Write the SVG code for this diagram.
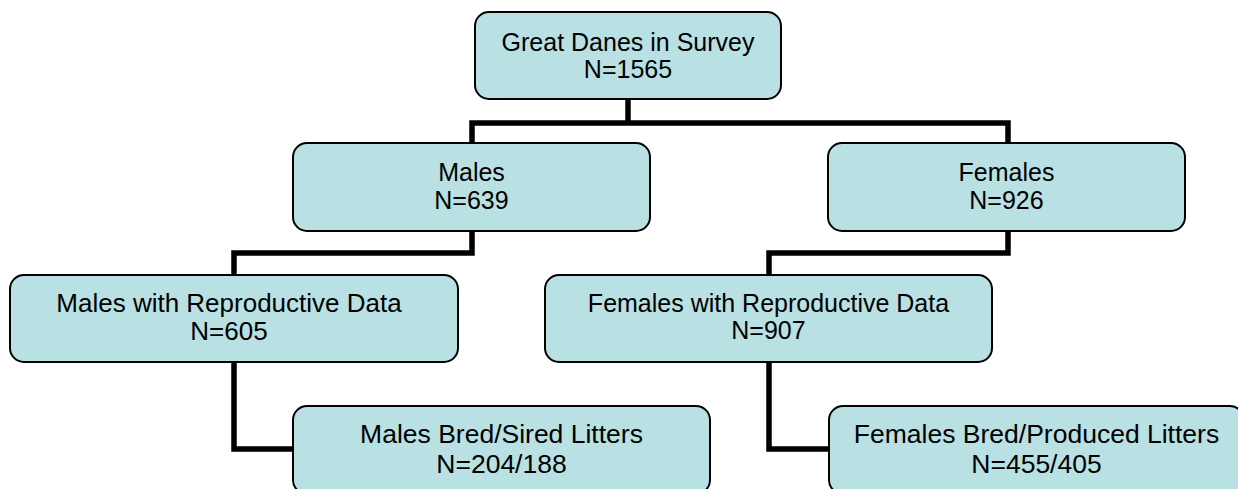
<svg xmlns="http://www.w3.org/2000/svg" width="1238" height="489" viewBox="0 0 1238 489">
  <style>
    .box { fill: #B9E0E3; stroke: #000; stroke-width: 2; }
    .conn { fill: none; stroke: #000; stroke-width: 5.5; stroke-linejoin: miter; }
    .lbl { font-family: "Liberation Sans", Arial, sans-serif; font-size: 25px; fill: #000; text-anchor: middle; }
    .big { font-size: 26.5px; }
    .mid { font-size: 26px; }
  </style>
  <rect width="1238" height="489" fill="#fff"/>
  <g id="connectors">
    <path class="conn" d="M472,143 V123 H1008 V143"/>
    <path class="conn" d="M628,99 V123"/>
    <path class="conn" d="M472,231 V253 H234 V275"/>
    <path class="conn" d="M1008,231 V253 H769 V275"/>
    <path class="conn" d="M234,362 V449 H293"/>
    <path class="conn" d="M769,362 V449 H829"/>
  </g>
  <g id="node-survey">
    <rect class="box" x="475" y="12" width="306" height="87" rx="14"/>
    <text class="lbl" x="628" y="51">Great Danes in Survey</text>
    <text class="lbl" x="628" y="78">N=1565</text>
  </g>
  <g id="node-males">
    <rect class="box" x="293" y="143" width="357" height="88" rx="14"/>
    <text class="lbl" x="471.5" y="181">Males</text>
    <text class="lbl" x="471.5" y="209">N=639</text>
  </g>
  <g id="node-females">
    <rect class="box" x="828" y="143" width="357" height="88" rx="14"/>
    <text class="lbl" x="1006.5" y="181">Females</text>
    <text class="lbl" x="1006.5" y="209">N=926</text>
  </g>
  <g id="node-males-repro">
    <rect class="box" x="10" y="275" width="448" height="87" rx="14"/>
    <text class="lbl mid" x="229" y="312">Males with Reproductive Data</text>
    <text class="lbl mid" x="229" y="340">N=605</text>
  </g>
  <g id="node-females-repro">
    <rect class="box" x="545" y="275" width="447" height="87" rx="14"/>
    <text class="lbl" x="768.5" y="312">Females with Reproductive Data</text>
    <text class="lbl" x="768.5" y="339">N=907</text>
  </g>
  <g id="node-males-bred">
    <rect class="box" x="293" y="406" width="417" height="88" rx="14"/>
    <text class="lbl big" x="501.5" y="443">Males Bred/Sired Litters</text>
    <text class="lbl big" x="501.5" y="473">N=204/188</text>
  </g>
  <g id="node-females-bred">
    <rect class="box" x="829" y="406" width="415" height="88" rx="14"/>
    <text class="lbl big" x="1036.5" y="443">Females Bred/Produced Litters</text>
    <text class="lbl big" x="1036.5" y="473">N=455/405</text>
  </g>
</svg>
